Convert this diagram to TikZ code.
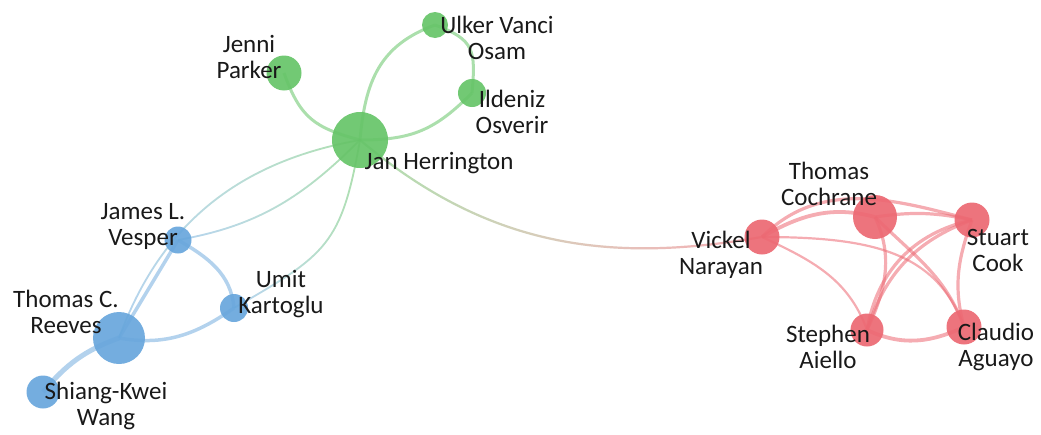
\documentclass[tikz,border=0pt]{standalone}
\usepackage{fontspec}
\setmainfont{Carlito}
\usetikzlibrary{backgrounds,fadings}
\definecolor{hgreen}{RGB}{102,196,104}
\definecolor{hblue}{RGB}{104,166,220}
\definecolor{hred}{RGB}{236,104,114}
\tikzfading[name=fadeleft, left color=transparent!100, right color=transparent!0]
\tikzfading[name=faderight, left color=transparent!0, right color=transparent!100]
\begin{document}
\begin{tikzpicture}[x=1pt,y=1pt,
        every node/.style={inner sep=0pt},
        author/.style={circle,fill opacity=0.92,minimum size=#1},
        lbl/.style={font=\fontsize{25}{26}\selectfont,align=center,text=black!90},
        glink/.style={draw=hgreen,draw opacity=0.55,line width=3pt},
        blink/.style={draw=hblue,draw opacity=0.5,line width=3.5pt},
        rlink/.style={draw=hred,draw opacity=0.55,line width=3.2pt}]
        \useasboundingbox (0,0) rectangle (1041,-434);
        % green group
        \node[author=56pt,fill=hgreen] (jan) at (360,-140) {};
        \node[author=35pt,fill=hgreen] (jenni) at (284,-73) {};
        \node[author=26pt,fill=hgreen] (ulker) at (435,-25) {};
        \node[author=28pt,fill=hgreen] (ildeniz) at (472,-93) {};
        % blue group
        \node[author=27pt,fill=hblue] (vesper) at (178,-240) {};
        \node[author=28pt,fill=hblue] (umit) at (234,-308) {};
        \node[author=52pt,fill=hblue] (reeves) at (119,-338) {};
        \node[author=33pt,fill=hblue] (wang) at (43,-392) {};
        % red group
        \node[author=35pt,fill=hred] (vickel) at (762,-237) {};
        \node[author=44pt,fill=hred] (cochrane) at (875,-217) {};
        \node[author=35pt,fill=hred] (stuart) at (972,-220) {};
        \node[author=33pt,fill=hred] (aiello) at (867,-330) {};
        \node[author=35pt,fill=hred] (aguayo) at (964,-327) {};
        \begin{scope}[on background layer]
        \draw[glink] (jan.center) to[out=165,in=-70,looseness=1.2] (jenni.center);
        \draw[glink] (jan.center) to[out=85,in=200,looseness=1.1] (ulker.center);
        \draw[glink] (jan.center) to[out=0,in=225,looseness=1.1] (ildeniz.center);
        \draw[glink] (ulker.center) to[out=-20,in=85,looseness=1.4] (ildeniz.center);
        \draw[blink] (vesper.center) to[out=-30,in=95] (umit.center);
        \draw[blink] (reeves.center) to[out=-10,in=215] (umit.center);
        \draw[blink] (vesper.center) -- (reeves.center);
        \draw[blink,line width=5pt] (reeves.center) to[out=200,in=50] (wang.center);
        % links leaving the green group
        \foreach \other/\outa/\ina/\loose in {vesper/225/10/1, reeves/190/70/1, umit/260/30/1.3}{
            \draw[glink,line width=1.8pt,path fading=fadeleft] (jan.center) to[out=\outa,in=\ina,looseness=\loose] (\other.center);
            \draw[blink,line width=1.8pt,path fading=faderight] (jan.center) to[out=\outa,in=\ina,looseness=\loose] (\other.center);
        }
        \draw[glink,line width=2.2pt,path fading=faderight] (jan.center) to[out=-40,in=190] (vickel.center);
        \draw[rlink,line width=2.2pt,path fading=fadeleft] (jan.center) to[out=-40,in=190] (vickel.center);
        \draw[rlink,line width=3.8pt] (vickel.center) to[out=30,in=165] (cochrane.center);
        \draw[rlink] (vickel.center) to[out=45,in=165] (stuart.center);
        \draw[rlink] (cochrane.center) to[bend left=10] (stuart.center);
        \draw[rlink,line width=2.2pt] (vickel.center) to[out=-25,in=110] (aiello.center);
        \draw[rlink,line width=2.2pt] (vickel.center) .. controls +(0:110) and +(110:80) .. (aguayo.center);
        \draw[rlink] (cochrane.center) to[out=-65,in=65] (aiello.center);
        \draw[rlink] (cochrane.center) to[out=-45,in=110] (aguayo.center);
        \draw[rlink] (stuart.center) to[bend right=34] (aiello.center);
        \draw[rlink] (stuart.center) to[bend right=26] (aiello.center);
        \draw[rlink] (stuart.center) to[out=250,in=105] (aguayo.center);
        \draw[rlink,line width=3.8pt] (aiello.center) to[out=-25,in=205] (aguayo.center);
        \end{scope}
        % names
        \node[lbl] (janL) at (439,-163) {Jan Herrington};
        \node[lbl] (jenniL) at (249,-57) {Jenni\\Parker};
        \node[lbl] (ulkerL) at (497,-38) {Ulker Vanci\\Osam};
        \node[lbl] (ildenizL) at (512,-112) {Ildeniz\\Osverir};
        \node[lbl] (vesperL) at (143,-226) {James L.\\Vesper};
        \node[lbl] (umitL) at (281,-294) {Umit\\Kartoglu};
        \node[lbl] (reevesL) at (66,-312) {Thomas C.\\Reeves};
        \node[lbl] (wangL) at (106,-406) {Shiang-Kwei\\Wang};
        \node[lbl] (vickelL) at (721,-255) {Vickel\\Narayan};
        \node[lbl] (cochraneL) at (829,-184) {Thomas\\Cochrane};
        \node[lbl] (stuartL) at (998,-250) {Stuart\\Cook};
        \node[lbl] (aielloL) at (828,-347) {Stephen\\Aiello};
        \node[lbl] (aguayoL) at (996,-347) {Claudio\\Aguayo};
\end{tikzpicture}
\end{document}
